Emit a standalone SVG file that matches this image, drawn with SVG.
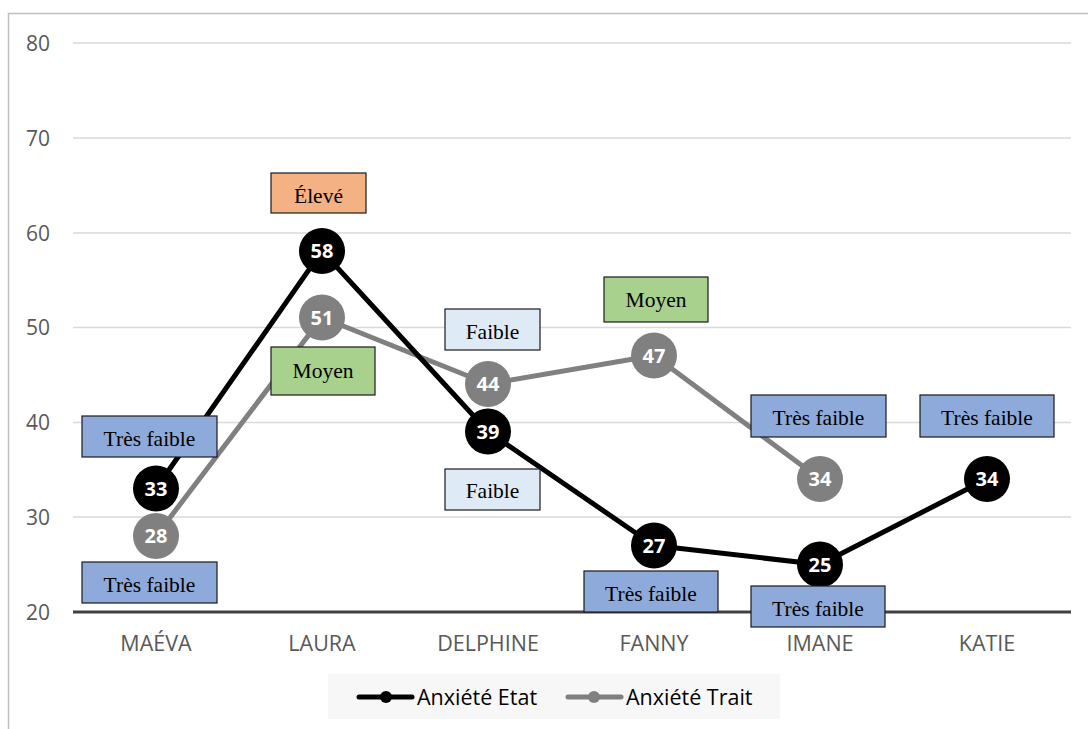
<svg xmlns="http://www.w3.org/2000/svg" width="1088" height="729" viewBox="0 0 1088 729">
<style>
.ax{font-family:"Open Sans","Noto Sans",sans-serif;font-size:21px;fill:#595959}
.cat{font-size:21.5px}
.grid{stroke:#d9d9d9;stroke-width:1.3}
.lbl rect{stroke:#1a1a1a;stroke-width:1.2}
.lbl text{font-family:"Liberation Serif",serif;font-size:21.5px;fill:#000;text-anchor:middle}
.tf{fill:#8eaadb}.fa{fill:#deebf7}.mo{fill:#a9d18e}.el{fill:#f4b183}
.pt text{font-family:"Open Sans","Noto Sans",sans-serif;font-size:20px;font-weight:bold;fill:#fff;text-anchor:middle}
.leg{font-family:"Open Sans","Noto Sans",sans-serif;font-size:21.5px;fill:#000}
</style>
<rect x="0" y="0" width="1088" height="729" fill="#fff"/>
<path d="M8.5 729 V13.5 H1088" fill="none" stroke="#bfbfbf" stroke-width="1.5"/>
<g id="axes">
<line class="grid" x1="73" y1="43" x2="1071" y2="43"/>
<line class="grid" x1="73" y1="138" x2="1071" y2="138"/>
<line class="grid" x1="73" y1="233" x2="1071" y2="233"/>
<line class="grid" x1="73" y1="327.5" x2="1071" y2="327.5"/>
<line class="grid" x1="73" y1="422.5" x2="1071" y2="422.5"/>
<line class="grid" x1="73" y1="517" x2="1071" y2="517"/>
<line x1="73" y1="612" x2="1071" y2="612" stroke="#404040" stroke-width="3"/>
<g class="ax" text-anchor="end">
<text x="50" y="50.5">80</text><text x="50" y="145.5">70</text><text x="50" y="240.5">60</text>
<text x="50" y="335">50</text><text x="50" y="430">40</text><text x="50" y="524.5">30</text><text x="50" y="619.5">20</text>
</g>
<g class="ax cat" text-anchor="middle">
<text x="156" y="651">MAÉVA</text><text x="322" y="651">LAURA</text><text x="488" y="651">DELPHINE</text>
<text x="654" y="651">FANNY</text><text x="820" y="651">IMANE</text><text x="987" y="651">KATIE</text>
</g>
</g>
<g id="connectors" fill="none" stroke-linejoin="round" stroke-width="5">
<polyline stroke="#808080" points="156,536 322,317.5 488,384 654,355.5 820,479"/>
<polyline stroke="#000" points="156,488.5 322,251 488,431.5 654,545.5 820,564.5 987,479"/>
</g>
<g id="labels-bottom" class="lbl">
<g id="lbl-maeva-bas"><rect class="tf" x="82" y="562" width="135" height="41"/><text x="149.5" y="592">Très faible</text></g>
</g>
<g id="points-trait" class="pt">
<g id="t-maeva"><circle cx="156" cy="536" r="23" fill="#808080"/><text x="156" y="543">28</text></g>
<g id="t-laura"><circle cx="322" cy="317.5" r="23" fill="#808080"/><text x="322" y="324.5">51</text></g>
<g id="t-delphine"><circle cx="488" cy="384" r="23" fill="#808080"/><text x="488" y="391">44</text></g>
<g id="t-fanny"><circle cx="654" cy="355.5" r="23" fill="#808080"/><text x="654" y="362.5">47</text></g>
<g id="t-imane"><circle cx="820" cy="479" r="23" fill="#808080"/><text x="820" y="486">34</text></g>
</g>
<g id="points-etat" class="pt">
<g id="e-maeva"><circle cx="156" cy="488.5" r="23" fill="#000"/><text x="156" y="495.5">33</text></g>
<g id="e-laura"><circle cx="322" cy="251" r="23" fill="#000"/><text x="322" y="258">58</text></g>
<g id="e-delphine"><circle cx="488" cy="431.5" r="23" fill="#000"/><text x="488" y="438.5">39</text></g>
<g id="e-fanny"><circle cx="654" cy="545.5" r="23" fill="#000"/><text x="654" y="552.5">27</text></g>
<g id="e-imane"><circle cx="820" cy="564.5" r="23" fill="#000"/><text x="820" y="571.5">25</text></g>
<g id="e-katie"><circle cx="987" cy="479" r="23" fill="#000"/><text x="987" y="486">34</text></g>
</g>
<g id="labels" class="lbl">
<g id="lbl-maeva-haut"><rect class="tf" x="82" y="416" width="135" height="41"/><text x="149.5" y="446">Très faible</text></g>
<g id="lbl-laura-eleve"><rect class="el" x="271" y="173" width="95" height="40"/><text x="318.5" y="203">Élevé</text></g>
<g id="lbl-laura-moyen"><rect class="mo" x="271" y="347" width="104" height="48"/><text x="323" y="378">Moyen</text></g>
<g id="lbl-delphine-haut"><rect class="fa" x="445" y="309" width="95" height="41"/><text x="492.5" y="339">Faible</text></g>
<g id="lbl-delphine-bas"><rect class="fa" x="445" y="469" width="95" height="41"/><text x="492.5" y="498">Faible</text></g>
<g id="lbl-fanny-moyen"><rect class="mo" x="604" y="277" width="104" height="45"/><text x="656" y="307">Moyen</text></g>
<g id="lbl-fanny-bas"><rect class="tf" x="584" y="571" width="134" height="41"/><text x="651" y="601">Très faible</text></g>
<g id="lbl-imane-haut"><rect class="tf" x="751" y="395" width="135" height="42"/><text x="818.5" y="425">Très faible</text></g>
<g id="lbl-imane-bas"><rect class="tf" x="751" y="586" width="134" height="41"/><text x="818" y="616">Très faible</text></g>
<g id="lbl-katie"><rect class="tf" x="920" y="395" width="134" height="42"/><text x="987" y="425">Très faible</text></g>
</g>
<g id="legend">
<rect x="328" y="674" width="452" height="45" fill="#f7f7f7"/>
<line x1="359" y1="697" x2="412" y2="697" stroke="#000" stroke-width="5" stroke-linecap="round"/>
<circle cx="386" cy="697" r="6" fill="#000"/>
<text class="leg" x="417" y="704.5">Anxiété Etat</text>
<line x1="568" y1="697" x2="621" y2="697" stroke="#808080" stroke-width="5" stroke-linecap="round"/>
<circle cx="594" cy="697" r="6" fill="#808080"/>
<text class="leg" x="626" y="704.5">Anxiété Trait</text>
</g>
</svg>
